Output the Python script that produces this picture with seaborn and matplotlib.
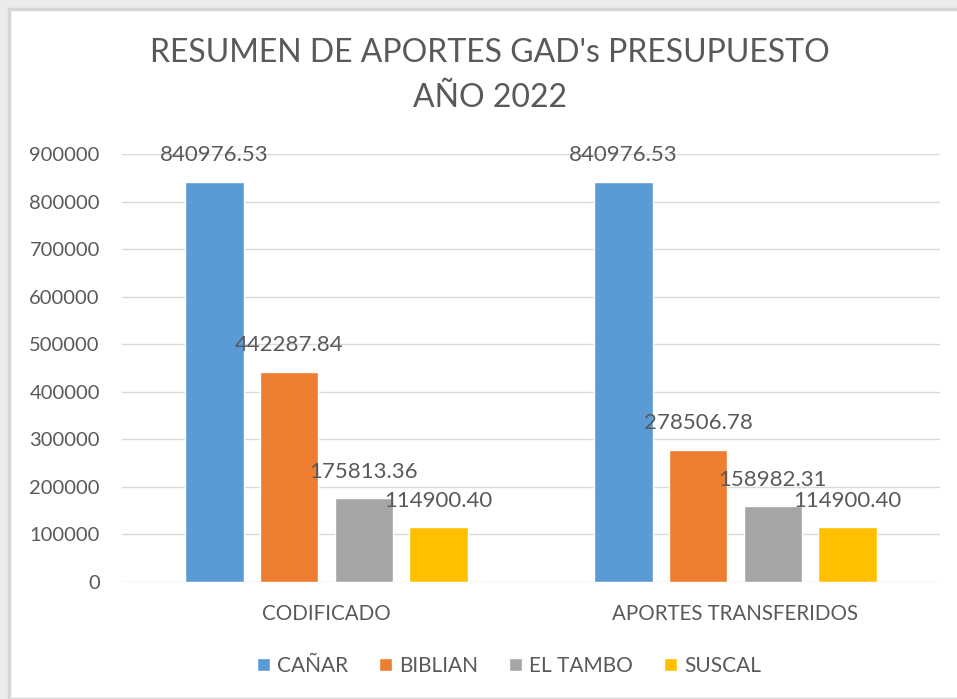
import pandas as pd
import numpy as np
import matplotlib.pyplot as plt
import seaborn as sns
from matplotlib.patches import Rectangle

# data
categorias = ['CODIFICADO', 'APORTES TRANSFERIDOS']
cantones = ['CAÑAR', 'BIBLIAN', 'EL TAMBO', 'SUSCAL']
codificado = [840976.53, 442287.84, 175813.36, 114900.40]
transferido = [840976.53, 278506.78, 158982.31, 114900.40]
colores = ['#5b9bd5', '#ed7d31', '#a5a5a5', '#ffc000']

df = pd.DataFrame({
    'categoria': [categorias[0]] * 4 + [categorias[1]] * 4,
    'canton': cantones * 2,
    'valor': codificado + transferido,
})

sns.set_theme(style='white')
plt.rcParams['font.family'] = ['Lato', 'DejaVu Sans']
gris = '#595959'

fig = plt.figure(figsize=(9.57, 6.99), dpi=100)
fig.patch.set_facecolor('#ebebeb')
# white chart area with a light border, like the screenshot
fig.patches.append(Rectangle((9 / 957, 0), 1, 1 - 9 / 699, transform=fig.transFigure,
                             facecolor='white', edgecolor='#d6d6d6', linewidth=2.5, zorder=-5))

ax = fig.add_axes([122 / 957, (699 - 582) / 699, (940 - 122) / 957, (582 - 154) / 699])
ax.set_zorder(2)
sns.barplot(data=df, x='categoria', y='valor', hue='canton', hue_order=cantones,
            order=categorias, palette=colores, width=0.73, gap=0.22, saturation=1,
            ax=ax, zorder=3)

ax.set_xlim(-0.5, 1.5)
ax.set_ylim(0, 900000)
ax.set_yticks(np.arange(0, 900001, 100000))
ax.set_yticklabels([str(v) for v in range(0, 900001, 100000)])
ax.grid(axis='y', color='#d9d9d9', linewidth=1, zorder=0)
ax.set_axisbelow(True)
ax.set_facecolor('none')
for s in ax.spines.values():
    s.set_visible(False)
ax.tick_params(axis='y', length=0, pad=16, labelsize=14.5, labelcolor=gris)
ax.tick_params(axis='x', length=0, pad=16, labelsize=14.8, labelcolor=gris)
ax.set_xlabel('')
ax.set_ylabel('')

for cont in ax.containers:
    ax.bar_label(cont, labels=[f'{v:.2f}' for v in cont.datavalues],
                 padding=12, fontsize=16, color=gris)

fig.text(490 / 957, 1 - 53 / 699, 'RESUMEN DE APORTES GAD\'s PRESUPUESTO', ha='center',
         va='center', fontsize=23, color=gris)
fig.text(490 / 957, 1 - 98 / 699, 'AÑO 2022', ha='center', va='center', fontsize=23, color=gris)

ax.legend(loc='center', bbox_to_anchor=(509 / 957, 1 - 666 / 699), bbox_transform=fig.transFigure,
          ncol=4, frameon=False, fontsize=15, labelcolor=gris, handlelength=0.6, handleheight=0.6,
          handletextpad=0.35, columnspacing=1.5)

fig.savefig('out.png', dpi=100, facecolor=fig.get_facecolor())
